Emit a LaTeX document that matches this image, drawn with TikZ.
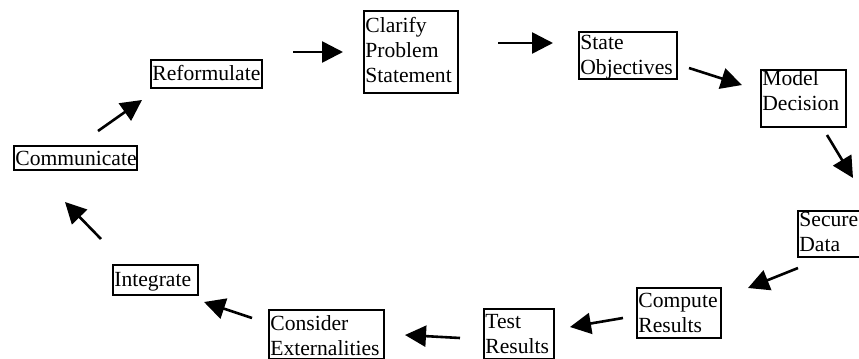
\documentclass[tikz,border=0pt]{standalone}
\usepackage{fontspec}
\setmainfont{Liberation Serif}
\usetikzlibrary{arrows.meta}
\begin{document}
\begin{tikzpicture}[x=0.5pt,y=-0.5pt,
  frame/.style={draw, line width=0.9pt, inner sep=0pt, anchor=north west},
  txt/.style={inner sep=0pt, anchor=base west, align=left, font=\fontsize{10.8}{12.3}\selectfont},
  flow/.style={line width=1.3pt, -{Triangle[length=10.5pt,width=10.5pt]}}]
\useasboundingbox (0,0) rectangle (859,359);
% frames
\node[frame, minimum width=55.5pt, minimum height=14pt] (ref) at (150,59) {};
\node[frame, minimum width=47pt, minimum height=41pt] (cla) at (363,10) {};
\node[frame, minimum width=49pt, minimum height=23.5pt] (sta) at (578,31) {};
\node[frame, minimum width=42.5pt, minimum height=28.5pt] (mod) at (760,69) {};
\node[frame, minimum width=35pt, minimum height=23pt] (sec) at (797,210) {};
\node[frame, minimum width=42pt, minimum height=25pt] (com) at (636,287) {};
\node[frame, minimum width=35pt, minimum height=25pt] (tes) at (483,308) {};
\node[frame, minimum width=57.5pt, minimum height=24.5pt] (con) at (268,309) {};
\node[frame, minimum width=42.5pt, minimum height=15pt] (int) at (112,264) {};
\node[frame, minimum width=61.5pt, minimum height=12pt] (cmm) at (13,145) {};
% texts (anchor = baseline of last line)
\node[txt] (refT) at (152,80) {Reformulate};
\node[txt] (claT) at (365,82) {Clarify\\Problem\\Statement};
\node[txt] (staT) at (580,74) {State\\Objectives};
\node[txt] (modT) at (762,110) {Model\\Decision};
\node[txt] (secT) at (799,251) {Secure\\Data};
\node[txt] (comT) at (638,332) {Compute\\Results};
\node[txt] (tesT) at (485,353) {Test\\Results};
\node[txt] (conT) at (270,355) {Consider\\Externalities};
\node[txt] (intT) at (114,286) {Integrate};
\node[txt] (cmmT) at (15,165) {Communicate};
% arrow end points
\coordinate (a1) at (98,131);  \coordinate (b1) at (142,100);
\coordinate (a2) at (293,52);  \coordinate (b2) at (343,52);
\coordinate (a3) at (498,43);  \coordinate (b3) at (553,43);
\coordinate (a4) at (689,68);  \coordinate (b4) at (742,85);
\coordinate (a5) at (827,135); \coordinate (b5) at (853,178);
\coordinate (a6) at (798,268); \coordinate (b6) at (748,288);
\coordinate (a7) at (623,318); \coordinate (b7) at (570,327);
\coordinate (a8) at (460,338); \coordinate (b8) at (405,335);
\coordinate (a9) at (252,318); \coordinate (b9) at (204,302);
\coordinate (a10) at (101,239); \coordinate (b10) at (65,202);
\foreach \i in {1,...,10} \draw[flow] (a\i) -- (b\i);
\end{tikzpicture}
\end{document}
